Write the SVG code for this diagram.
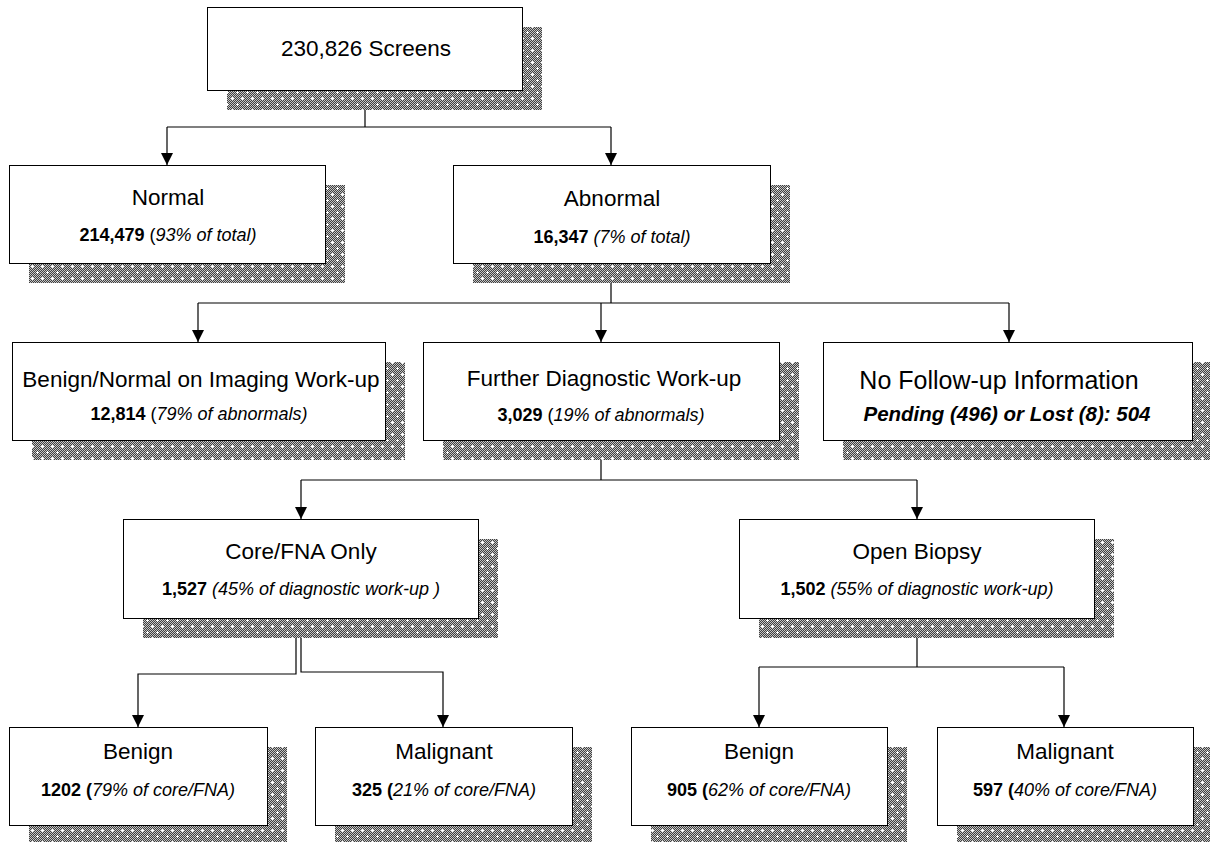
<svg xmlns="http://www.w3.org/2000/svg" width="1210" height="842" viewBox="0 0 1210 842">
<style>
text{font-family:"Liberation Sans",Arial,sans-serif;text-anchor:middle;fill:#000}
.t{font-size:22.5px}
.s{font-size:18px}
.tl{font-size:25px}
.sl{font-size:20.5px}
.b{font-weight:bold}
.i{font-style:italic}
.box{fill:#fff;stroke:#000;stroke-width:1}
.sh{fill:url(#shade)}
.c{fill:none;stroke:#000;stroke-width:1.2}
</style>
<defs>
<pattern id="chk" width="2" height="2" patternUnits="userSpaceOnUse">
<rect width="2" height="2" fill="#404040"/>
<rect x="0" y="0" width="1" height="1" fill="#c4c4c4"/>
<rect x="1" y="1" width="1" height="1" fill="#c4c4c4"/>
</pattern>
<pattern id="shade" width="10" height="12" patternUnits="userSpaceOnUse">
<rect width="10" height="12" fill="url(#chk)"/>
<rect x="2" y="1" width="1" height="3" fill="#fff"/>
<rect x="1" y="2" width="3" height="1" fill="#fff"/>
<rect x="7" y="7" width="1" height="3" fill="#fff"/>
<rect x="6" y="8" width="3" height="1" fill="#fff"/>
</pattern>
<marker id="ah" markerWidth="12" markerHeight="12" viewBox="0 0 12 12" refX="12" refY="6" orient="auto" markerUnits="userSpaceOnUse">
<path d="M0,0 L12,6 L0,12 Z" fill="#000"/>
</marker>
</defs>

<g id="connectors">
<path class="c" d="M365,90 V127 M167,127 H611"/>
<path class="c" d="M167,127 V165" marker-end="url(#ah)"/>
<path class="c" d="M611,127 V165" marker-end="url(#ah)"/>
<path class="c" d="M611,263 V303 M198,303 H1009"/>
<path class="c" d="M198,303 V342" marker-end="url(#ah)"/>
<path class="c" d="M601,303 V342" marker-end="url(#ah)"/>
<path class="c" d="M1009,303 V342" marker-end="url(#ah)"/>
<path class="c" d="M601,440 V480 M301,480 H917"/>
<path class="c" d="M301,480 V519" marker-end="url(#ah)"/>
<path class="c" d="M917,480 V519" marker-end="url(#ah)"/>
<path class="c" d="M296,618 V674 H138 V727" marker-end="url(#ah)"/>
<path class="c" d="M301,618 V672 H443 V727" marker-end="url(#ah)"/>
<path class="c" d="M917,618 V667 M759,667 H1064"/>
<path class="c" d="M759,667 V727" marker-end="url(#ah)"/>
<path class="c" d="M1064,667 V727" marker-end="url(#ah)"/>
</g>

<g id="screens">
<rect class="sh" x="227" y="27" width="315" height="83"/>
<rect class="box" x="207.5" y="7.5" width="315" height="83"/>
<text class="t" x="366" y="56">230,826 Screens</text>
</g>

<g id="normal">
<rect class="sh" x="29" y="185" width="316" height="98"/>
<rect class="box" x="9.5" y="165.5" width="316" height="98"/>
<text class="t" x="168" y="205">Normal</text>
<text class="s" x="168" y="241"><tspan class="b">214,479</tspan> (<tspan class="i">93% of total)</tspan></text>
</g>

<g id="abnormal">
<rect class="sh" x="473" y="185" width="317" height="98"/>
<rect class="box" x="453.5" y="165.5" width="317" height="98"/>
<text class="t" x="612" y="206">Abnormal</text>
<text class="s" x="612" y="243"><tspan class="b">16,347</tspan> <tspan class="i">(7% of total)</tspan></text>
</g>

<g id="benign-normal">
<rect class="sh" x="32" y="362" width="373" height="98"/>
<rect class="box" x="12.5" y="342.5" width="373" height="98"/>
<text class="t" x="201" y="387">Benign/Normal on Imaging Work-up</text>
<text class="s" x="199" y="420"><tspan class="b">12,814</tspan> (<tspan class="i">79% of abnormals)</tspan></text>
</g>

<g id="further">
<rect class="sh" x="443" y="362" width="356" height="98"/>
<rect class="box" x="423.5" y="342.5" width="356" height="98"/>
<text class="t" x="604" y="386">Further Diagnostic Work-up</text>
<text class="s" x="601" y="421"><tspan class="b">3,029</tspan> (<tspan class="i">19% of abnormals)</tspan></text>
</g>

<g id="no-followup">
<rect class="sh" x="843" y="362" width="369" height="98"/>
<rect class="box" x="823.5" y="342.5" width="369" height="98"/>
<text class="tl" x="999" y="389">No Follow-up Information</text>
<text class="sl b i" x="1007" y="421">Pending (496) or Lost (8): 504</text>
</g>

<g id="core">
<rect class="sh" x="143" y="539" width="355" height="99"/>
<rect class="box" x="123.5" y="519.5" width="355" height="99"/>
<text class="t" x="301" y="559">Core/FNA Only</text>
<text class="s" x="301" y="595"><tspan class="b">1,527</tspan> <tspan class="i">(45% of diagnostic work-up )</tspan></text>
</g>

<g id="open-biopsy">
<rect class="sh" x="759" y="539" width="355" height="99"/>
<rect class="box" x="739.5" y="519.5" width="355" height="99"/>
<text class="t" x="917" y="559">Open Biopsy</text>
<text class="s" x="917" y="595"><tspan class="b">1,502</tspan> <tspan class="i">(55% of diagnostic work-up)</tspan></text>
</g>

<g id="core-benign">
<rect class="sh" x="29" y="747" width="258" height="98"/>
<rect class="box" x="9.5" y="727.5" width="258" height="98"/>
<text class="t" x="138" y="759">Benign</text>
<text class="s" x="138" y="796"><tspan class="b">1202 (</tspan><tspan class="i">79% of core/FNA)</tspan></text>
</g>

<g id="core-malignant">
<rect class="sh" x="335" y="747" width="257" height="98"/>
<rect class="box" x="315.5" y="727.5" width="257" height="98"/>
<text class="t" x="444" y="759">Malignant</text>
<text class="s" x="444" y="796"><tspan class="b">325 (</tspan><tspan class="i">21% of core/FNA)</tspan></text>
</g>

<g id="open-benign">
<rect class="sh" x="651" y="747" width="256" height="98"/>
<rect class="box" x="631.5" y="727.5" width="256" height="98"/>
<text class="t" x="759" y="759">Benign</text>
<text class="s" x="759" y="796"><tspan class="b">905 (</tspan><tspan class="i">62% of core/FNA)</tspan></text>
</g>

<g id="open-malignant">
<rect class="sh" x="957" y="747" width="256" height="98"/>
<rect class="box" x="937.5" y="727.5" width="256" height="98"/>
<text class="t" x="1065" y="759">Malignant</text>
<text class="s" x="1065" y="796"><tspan class="b">597 (</tspan><tspan class="i">40% of core/FNA)</tspan></text>
</g>
</svg>
